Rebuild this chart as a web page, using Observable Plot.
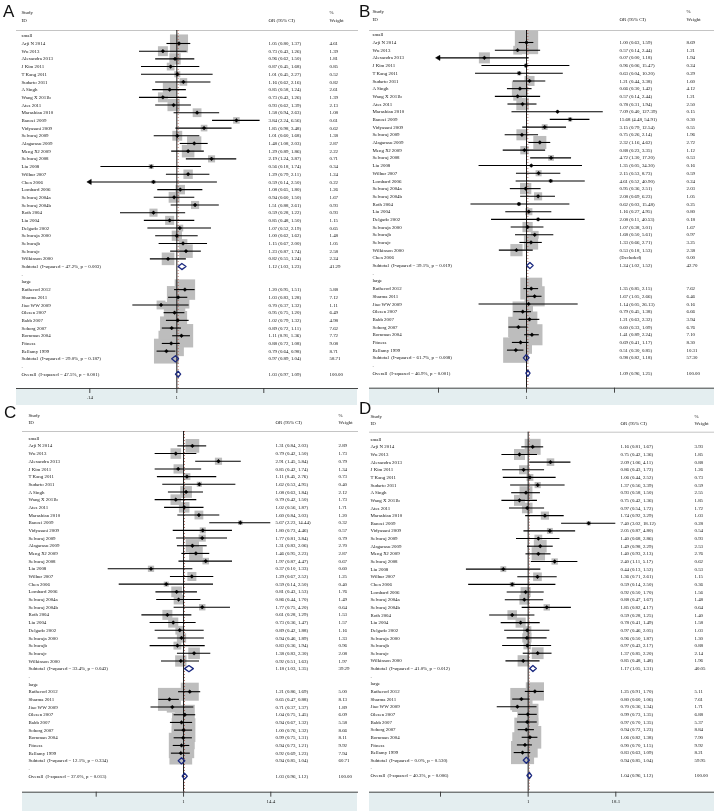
<!DOCTYPE html>
<html><head><meta charset="utf-8">
<script src="https://cdn.jsdelivr.net/npm/d3@7"></script>
<script src="https://cdn.jsdelivr.net/npm/@observablehq/plot@0.6"></script>
<style>
body{margin:0;background:#fff;}
#wrap{position:relative;width:714px;height:811px;background:#fff;}
.panel{position:absolute;width:357px;height:406px;}
.panel svg{overflow:visible;position:absolute;left:0;top:0;will-change:transform;}
.letter{position:absolute;font-family:"Liberation Sans",Arial,sans-serif;font-size:17px;line-height:20px;color:#111;}
</style></head><body><div id="wrap"></div><script>
// ---------- study names ----------
const smallStudies = ["Arji N 2014","Wu 2013","Alexandra 2013","J Kim 2011","T Kang 2011","Sudarto 2011","A Singh","Wang X 2011b","Ates 2011","Marashian 2010","Banoei 2009","Vidyasani 2009","Selvaraj 2009","Alagarasu 2009","Meng XJ 2009","Selvaraj 2008","Liu 2008","Wilbur 2007","Chen 2006","Lombard 2006","Selvaraj 2004a","Selvaraj 2004b","Roth 2004","Liu 2004","Delgado 2002","Selvaraja 2000","Selvarajb","Selvarajc","Wilkinson 2000"];
const smallStudiesB = ["Arji N 2014","Wu 2013","Alexandra 2013","J Kim 2011","T Kang 2011","Sudarto 2011","A Singh","Wang X 2011b","Ates 2011","Marashian 2010","Banoei 2009","Vidyasani 2009","Selvaraj 2009","Alagarasu 2009","Meng XJ 2009","Selvaraj 2008","Liu 2008","Wilbur 2007","Lombard 2006","Selvaraj 2004a","Selvaraj 2004b","Roth 2004","Liu 2004","Delgado 2002","Selvaraja 2000","Selvarajb","Selvarajc","Wilkinson 2000","Chen 2006"];
const largeStudies = ["Rutherod 2012","Sharma 2011","Jiao WW 2009","Olesen 2007","Babb 2007","Soborg 2007","Bornman 2004","Fitness","Bellamy 1999"];

// ---------- Panel A ----------
const aSmallOR = [1.05,0.73,0.96,0.87,1.01,1.16,0.85,0.73,0.93,1.58,3.84,1.85,1.01,1.48,1.29,2.19,0.56,1.29,0.59,1.08,0.94,1.51,0.59,0.85,1.07,1.00,1.15,1.23,0.82];
const aSmallLo = [0.80,0.43,0.62,0.45,0.45,0.62,0.58,0.43,0.62,0.94,2.24,0.98,0.60,1.08,0.89,1.24,0.18,0.79,0.14,0.65,0.60,0.88,0.28,0.48,0.52,0.62,0.67,0.87,0.55];
const aSmallHi = [1.37,1.26,1.50,1.68,2.27,2.16,1.24,1.26,1.39,2.63,6.56,3.48,1.68,2.03,1.86,3.87,1.74,2.11,2.50,1.80,1.50,2.61,1.22,1.50,2.19,1.62,2.00,1.74,1.24];
const aSmallW  = [4.61,1.39,1.81,0.85,0.52,0.82,2.61,1.39,2.13,1.08,0.61,0.62,1.38,2.87,2.22,0.71,0.34,1.24,0.22,1.26,1.67,0.93,0.93,1.15,0.65,1.48,1.05,2.58,2.24];
const aLargeOR = [1.20,1.03,0.70,0.95,1.02,0.89,1.11,0.88,0.79];
const aLargeLo = [0.95,0.83,0.37,0.75,0.79,0.72,0.91,0.72,0.64];
const aLargeHi = [1.51,1.28,1.32,1.20,1.32,1.11,1.36,1.08,0.98];
const aLargeW  = [5.88,7.12,1.11,6.49,4.98,7.62,7.72,9.08,8.71];
const aSumOR = [1.12,0.97,1.03], aSumLo = [1.03,0.89,0.97], aSumHi = [1.23,1.04,1.09], aSumW = [41.29,58.71,100.00];
const aSumI2 = ["47.2%","29.0%","47.5%"], aSumP = ["0.003","0.187","0.001"];
const aTicks = [0.14,1,7.13], aTickLabels = [".14","1","7.13"];

// ---------- Panel B ----------
const bSmallOR = [1.00,0.57,0.07,0.96,0.63,1.21,0.66,0.57,0.78,7.09,15.68,3.15,0.75,2.32,0.88,4.72,1.35,2.15,4.61,0.95,2.08,0.62,1.16,2.08,1.07,1.68,1.33,0.53,null];
const bSmallLo = [0.63,0.14,0.00,0.06,0.04,0.44,0.30,0.14,0.31,0.40,4.48,0.79,0.26,1.16,0.23,1.30,0.05,0.53,0.52,0.36,0.69,0.03,0.27,0.11,0.38,0.50,0.66,0.18,null];
const bSmallHi = [1.59,2.44,1.18,15.47,10.20,3.38,1.42,2.44,1.94,127.39,54.91,12.54,2.14,4.62,3.35,17.20,34.30,8.73,40.90,2.51,6.23,15.48,4.95,40.53,3.01,5.61,2.71,1.53,null];
const bSmallW  = [8.69,1.21,1.94,0.24,0.29,1.60,4.12,1.21,2.50,0.15,0.30,0.55,1.96,2.72,1.12,0.53,0.16,0.59,0.24,2.03,1.05,0.25,0.80,0.18,1.67,0.97,3.25,2.38,0.00];
const bLargeOR = [1.35,1.67,1.14,0.79,1.21,0.60,1.41,0.69,0.51];
const bLargeLo = [0.85,1.05,0.05,0.45,0.63,0.33,0.89,0.41,0.30];
const bLargeHi = [2.15,2.66,26.13,1.38,2.32,1.09,2.24,1.17,0.85];
const bLargeW  = [7.62,6.46,0.16,6.66,3.94,6.76,7.10,8.30,10.31];
const bSumOR = [1.24,0.98,1.09], bSumLo = [1.02,0.82,0.96], bSumHi = [1.52,1.18,1.25], bSumW = [42.70,57.30,100.00];
const bSumI2 = ["39.1%","61.7%","46.9%"], bSumP = ["0.019","0.008","0.001"];
const bTicks = [0.00386,1,259], bTickLabels = [".00386","1","259"];

// ---------- Panel C ----------
const cSmallOR = [1.31,0.79,2.91,0.85,1.11,1.62,1.08,0.79,1.02,1.60,5.67,1.80,1.77,1.31,1.46,1.97,0.37,1.29,0.59,0.81,0.86,1.77,0.61,0.73,0.89,0.94,0.83,1.38,0.92];
const cSmallLo = [0.84,0.42,1.45,0.42,0.45,0.53,0.63,0.42,0.56,0.84,2.23,0.73,0.81,0.83,0.95,0.87,0.10,0.67,0.14,0.43,0.44,0.75,0.28,0.36,0.42,0.46,0.36,0.83,0.51];
const cSmallHi = [2.03,1.50,5.84,1.74,2.76,4.95,1.84,1.50,1.87,3.03,14.44,4.46,3.84,2.06,2.23,4.47,1.33,2.52,2.50,1.53,1.70,4.20,1.29,1.47,1.88,1.89,1.94,2.30,1.63];
const cSmallW  = [2.89,1.73,0.79,1.34,0.73,0.40,2.12,1.73,1.71,1.20,0.32,0.57,0.79,2.70,2.87,0.67,0.60,1.25,0.40,1.76,1.49,0.64,1.53,1.57,1.16,1.33,0.96,2.08,1.97];
const cLargeOR = [1.21,0.65,0.71,1.04,0.94,1.00,0.99,0.94,0.92];
const cLargeLo = [0.86,0.47,0.37,0.75,0.67,0.76,0.75,0.73,0.69];
const cLargeHi = [1.69,0.88,1.37,1.45,1.32,1.32,1.31,1.21,1.23];
const cLargeW  = [5.00,8.13,1.89,6.09,5.58,8.66,8.11,9.92,7.94];
const cSumOR = [1.18,0.94,1.03], cSumLo = [1.03,0.85,0.96], cSumHi = [1.35,1.04,1.12], cSumW = [39.29,60.71,100.00];
const cSumI2 = ["33.4%","12.1%","37.0%"], cSumP = ["0.043","0.334","0.013"];
const cTicks = [0.0693,1,14.4], cTickLabels = [".0693","1","14.4"];

// ---------- Panel D ----------
const dSmallOR = [1.16,0.75,2.09,0.86,1.06,1.37,0.93,0.75,0.97,1.74,7.40,2.05,1.40,1.49,1.40,2.40,0.44,1.36,0.59,0.92,0.88,1.85,0.59,0.78,0.97,0.96,0.97,1.37,0.85];
const dSmallLo = [0.81,0.42,1.06,0.43,0.44,0.56,0.58,0.42,0.54,0.92,3.02,0.87,0.68,0.98,0.93,1.11,0.13,0.71,0.14,0.50,0.47,0.82,0.28,0.41,0.46,0.50,0.43,0.85,0.48];
const dSmallHi = [1.67,1.36,4.11,1.72,2.52,3.39,1.50,1.36,1.72,3.29,18.12,4.80,2.86,2.29,2.13,5.17,1.52,2.61,2.50,1.70,1.67,4.17,1.25,1.49,2.05,1.87,2.17,2.20,1.48];
const dSmallW  = [3.93,1.85,0.88,1.26,0.73,0.59,2.55,1.85,1.72,1.03,0.28,0.54,0.93,2.53,2.76,0.62,0.53,1.15,0.36,1.56,1.48,0.64,1.40,1.58,1.03,1.30,0.88,2.14,1.96];
const dLargeOR = [1.25,0.80,0.70,0.99,0.97,0.94,1.06,0.90,0.83];
const dLargeLo = [0.91,0.60,0.36,0.73,0.70,0.72,0.82,0.70,0.63];
const dLargeHi = [1.70,1.06,1.34,1.35,1.35,1.23,1.38,1.15,1.09];
const dLargeW  = [5.11,7.61,1.71,6.88,5.37,8.84,7.90,9.92,8.21];
const dSumOR = [1.17,0.94,1.04], dSumLo = [1.05,0.85,0.96], dSumHi = [1.31,1.04,1.12], dSumW = [40.05,59.95,100.00];
const dSumI2 = ["41.0%","0.0%","40.3%"], dSumP = ["0.012","0.530","0.006"];
const dTicks = [0.0552,1,18.1], dTickLabels = [".0552","1","18.1"];

// ---------- panel definitions (data references + layout) ----------
const panels = [
  {letter:"A", studies:smallStudies, sOR:aSmallOR, sLo:aSmallLo, sHi:aSmallHi, sW:aSmallW, lOR:aLargeOR, lLo:aLargeLo, lHi:aLargeHi, lW:aLargeW,
   sumOR:aSumOR, sumLo:aSumLo, sumHi:aSumHi, sumW:aSumW, i2:aSumI2, p:aSumP, ticks:aTicks, tickLabels:aTickLabels,
   L:{left:0, top:0, frameLeft:16, labelX:21, orX:268, wX:329, tickRange:[89.3,263.3], rowRange:[35.3,373.7], headY:30, axisY:388, letterX:3, letterY:2}},
  {letter:"B", studies:smallStudiesB, sOR:bSmallOR, sLo:bSmallLo, sHi:bSmallHi, sW:bSmallW, lOR:bLargeOR, lLo:bLargeLo, lHi:bLargeHi, lW:bLargeW,
   sumOR:bSumOR, sumLo:bSumLo, sumHi:bSumHi, sumW:bSumW, i2:bSumI2, p:bSumP, ticks:bTicks, tickLabels:bTickLabels,
   L:{left:357, top:0, frameLeft:12, labelX:15, orX:262, wX:329, tickRange:[81,257], rowRange:[34.3,372.7], headY:30, axisY:387.7, letterX:2, letterY:2}},
  {letter:"C", studies:smallStudies, sOR:cSmallOR, sLo:cSmallLo, sHi:cSmallHi, sW:cSmallW, lOR:cLargeOR, lLo:cLargeLo, lHi:cLargeHi, lW:cLargeW,
   sumOR:cSumOR, sumLo:cSumLo, sumHi:cSumHi, sumW:cSumW, i2:cSumI2, p:cSumP, ticks:cTicks, tickLabels:cTickLabels,
   L:{left:0, top:405, frameLeft:22, labelX:28, orX:275, wX:338, tickRange:[95.7,270.3], rowRange:[32.7,370.7], headY:26, axisY:386.7, letterX:4, letterY:-2}},
  {letter:"D", studies:smallStudies, sOR:dSmallOR, sLo:dSmallLo, sHi:dSmallHi, sW:dSmallW, lOR:dLargeOR, lLo:dLargeLo, lHi:dLargeHi, lW:dLargeW,
   sumOR:dSumOR, sumLo:dSumLo, sumHi:dSumHi, sumW:dSumW, i2:dSumI2, p:dSumP, ticks:dTicks, tickLabels:dTickLabels,
   L:{left:357, top:405, frameLeft:12, labelX:13, orX:263, wX:337, tickRange:[83,258.3], rowRange:[33.7,370], headY:26.7, axisY:386.7, letterX:2, letterY:-6}}
];

const f2 = v => v.toFixed(2);
const NB = "\u00a0";

function buildRows(P) {
  const rows = [{row:0, label:"small", kind:"group"}];
  P.studies.forEach((s,i) => rows.push({row:1+i, label:s, kind:"study", or:P.sOR[i], lo:P.sLo[i], hi:P.sHi[i], w:P.sW[i]}));
  let r = P.studies.length + 1;
  rows.push({row:r++, label:`Subtotal${NB}${NB}(I-squared = ${P.i2[0]}, p = ${P.p[0]})`, kind:"sum", or:P.sumOR[0], lo:P.sumLo[0], hi:P.sumHi[0], w:P.sumW[0]});
  rows.push({row:r++, label:".", kind:"blank"});
  rows.push({row:r++, label:"large", kind:"group"});
  largeStudies.forEach((s,i) => rows.push({row:r++, label:s, kind:"study", or:P.lOR[i], lo:P.lLo[i], hi:P.lHi[i], w:P.lW[i]}));
  rows.push({row:r++, label:`Subtotal${NB}${NB}(I-squared = ${P.i2[1]}, p = ${P.p[1]})`, kind:"sum", or:P.sumOR[1], lo:P.sumLo[1], hi:P.sumHi[1], w:P.sumW[1]});
  rows.push({row:r++, label:".", kind:"blank"});
  rows.push({row:r++, label:`Overall${NB}${NB}(I-squared = ${P.i2[2]}, p = ${P.p[2]})`, kind:"sum", or:P.sumOR[2], lo:P.sumLo[2], hi:P.sumHi[2], w:P.sumW[2]});
  return rows;
}

// light blue band under the axis (outer graph region), drawn inside the SVG
function bandMark(index, scales, values, dim) {
  const r = document.createElementNS("http://www.w3.org/2000/svg", "rect");
  r.setAttribute("x", dim.marginLeft);
  r.setAttribute("y", dim.height - dim.marginBottom);
  r.setAttribute("width", dim.width - dim.marginLeft - dim.marginRight);
  r.setAttribute("height", dim.marginBottom);
  r.setAttribute("fill", "#e4eef0");
  return r;
}

const wrap = document.getElementById("wrap");
const FONT = "'Liberation Serif','Times New Roman',serif";
const FS = 4.9;

for (const P of panels) {
  const L = P.L;
  const rows = buildRows(P);
  const lastRow = rows[rows.length-1].row;
  const [tMin, , tMax] = P.ticks;
  const studies = rows.filter(d => d.kind === "study" && d.or != null);
  const sums = rows.filter(d => d.kind === "sum");
  const maxW = d3.max(studies, d => d.w);
  const ci = studies.map(d => ({row:d.row, x1:Math.max(d.lo, tMin), x2:Math.min(d.hi, tMax)}));
  const leftArrows = studies.filter(d => d.lo < tMin*1.005);
  const rightArrows = studies.filter(d => d.hi > tMax*1.005);
  const diamonds = sums.flatMap(d => [
    {x:d.lo, y:d.row, z:d.row}, {x:d.or, y:d.row-0.4, z:d.row}, {x:d.hi, y:d.row, z:d.row},
    {x:d.or, y:d.row+0.4, z:d.row}, {x:d.lo, y:d.row, z:d.row}]);
  const valueRows = rows.filter(d => d.kind === "study" || d.kind === "sum");
  const overall = sums[sums.length-1].or;
  const H = (L.top === 0) ? 405 : 406;
  const tickLabel = d => P.tickLabels[d3.minIndex(P.ticks, t => Math.abs(Math.log(t) - Math.log(d)))];

  const panel = document.createElement("div");
  panel.className = "panel";
  panel.style.left = L.left + "px"; panel.style.top = L.top + "px";

  const svg = Plot.plot({
    width: 357, height: H,
    marginLeft: L.frameLeft, marginRight: 0, marginTop: L.headY, marginBottom: H - L.axisY,
    x: {type: "log", domain: [tMin, tMax], range: L.tickRange},
    y: {domain: [0, lastRow], range: L.rowRange, axis: null},
    r: {type: "sqrt", domain: [0, maxW], range: [0, 25.4 / Math.sqrt(Math.PI)]},
    style: {fontFamily: FONT, fontSize: FS + "px", background: "transparent", color: "#111"},
    marks: [
      bandMark,
      Plot.frame({anchor: "top", stroke: "#b5b5b5", strokeWidth: 0.8}),
      Plot.dot(studies, {x: "or", y: "row", r: "w", symbol: "square", fill: "#bdbdbd", stroke: "none"}),
      Plot.ruleX([1], {stroke: "#000", strokeWidth: 0.9}),
      Plot.ruleX([overall], {stroke: "#a04030", strokeWidth: 0.7, strokeDasharray: "1,2"}),
      Plot.ruleY(ci, {y: "row", x1: "x1", x2: "x2", stroke: "#000", strokeWidth: 1.1}),
      Plot.dot(leftArrows, {x: () => tMin, y: "row", symbol: "triangle", rotate: -90, r: 1.9, fill: "#000", stroke: "#000", strokeWidth: 0.5}),
      Plot.dot(rightArrows, {x: () => tMax, y: "row", symbol: "triangle", rotate: 90, r: 1.9, fill: "#000", stroke: "#000", strokeWidth: 0.5}),
      Plot.dot(studies, {x: "or", y: "row", symbol: "diamond2", r: 1.7, fill: "#000", stroke: "#000", strokeWidth: 0.4}),
      Plot.line(diamonds, {x: "x", y: "y", z: "z", stroke: "#1c2a80", strokeWidth: 1.3}),
      Plot.frame({anchor: "bottom", stroke: "#333", strokeWidth: 0.9}),
      Plot.axisX({ticks: P.ticks, tickFormat: tickLabel, tickSize: 5, tickPadding: 2, stroke: "#333", strokeWidth: 0.9, fontSize: FS, fill: "#111", label: null}),
      // header
      Plot.text(["Study", "ID"], {y: [-3, -2], text: d => d, frameAnchor: "left", dx: L.labelX - L.frameLeft, textAnchor: "start", fill: "#111"}),
      Plot.text(["OR (95% CI)"], {y: [-2], text: d => d, frameAnchor: "left", dx: L.orX - L.frameLeft, textAnchor: "start", fill: "#111"}),
      Plot.text(["%", "Weight"], {y: [-3, -2], text: d => d, frameAnchor: "left", dx: L.wX - L.frameLeft, textAnchor: "start", fill: "#111"}),
      // row labels
      Plot.text(rows, {y: "row", text: "label", frameAnchor: "left", dx: L.labelX - L.frameLeft, textAnchor: "start", fill: "#111"}),
      Plot.text(valueRows, {y: "row", text: d => d.or == null ? "(Excluded)" : `${f2(d.or)} (${f2(d.lo)}, ${f2(d.hi)})`, frameAnchor: "left", dx: L.orX - L.frameLeft, textAnchor: "start", fill: "#111"}),
      Plot.text(valueRows, {y: "row", text: d => f2(d.w), frameAnchor: "left", dx: L.wX - L.frameLeft, textAnchor: "start", fill: "#111"})
    ]
  });
  panel.appendChild(svg);
  const letter = document.createElement("div");
  letter.className = "letter";
  letter.textContent = P.letter;
  letter.style.left = L.letterX + "px"; letter.style.top = L.letterY + "px";
  panel.appendChild(letter);
  wrap.appendChild(panel);
}
</script></body></html>
